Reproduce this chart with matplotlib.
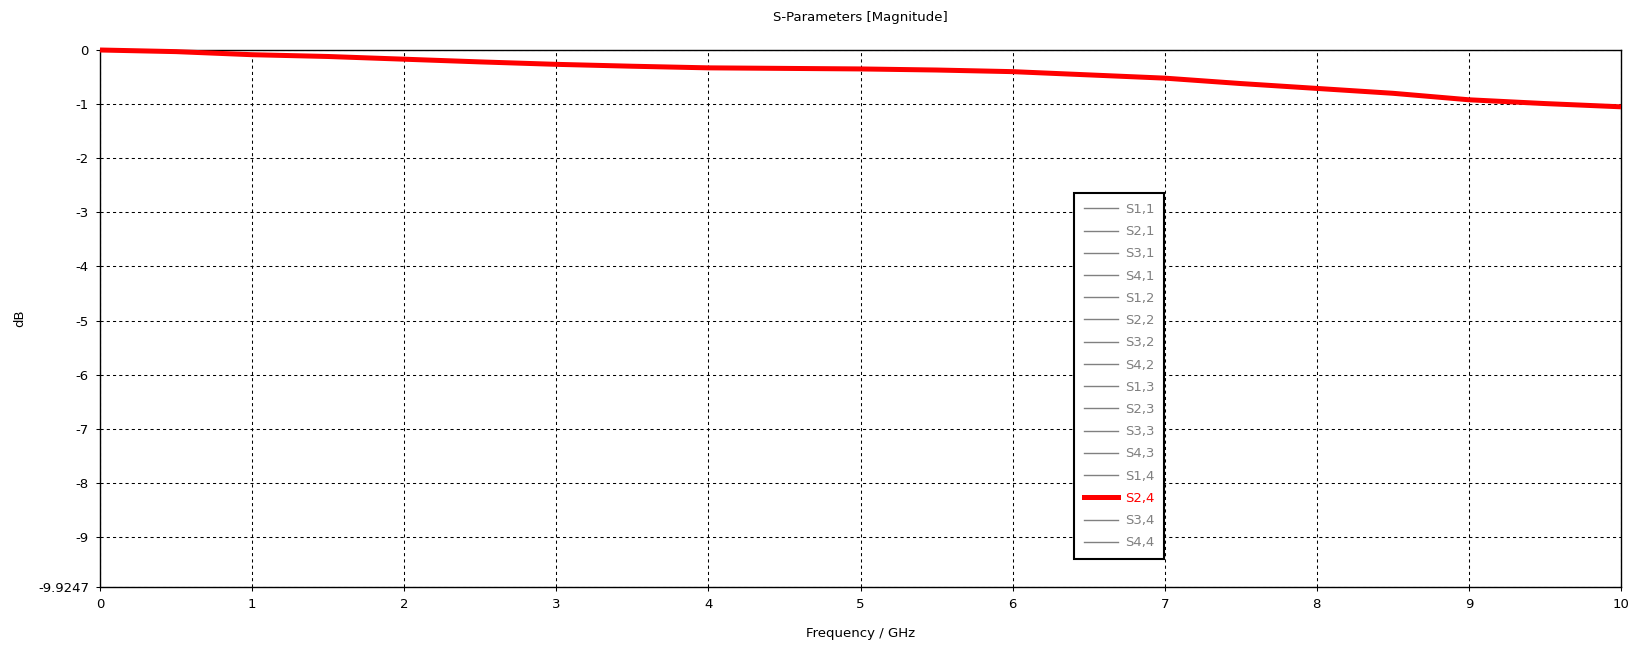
import matplotlib
matplotlib.use("Agg")
import matplotlib.pyplot as plt
from matplotlib.lines import Line2D

# ---- data ----
freq_ghz = [0.0, 0.5, 1.0, 1.5, 2.0, 2.5, 3.0, 3.5, 4.0, 4.5, 5.0,
            5.5, 6.0, 6.5, 7.0, 7.5, 8.0, 8.5, 9.0, 9.5, 10.0]
s24_db = [0.0, -0.03, -0.087, -0.12, -0.17, -0.22, -0.265, -0.30, -0.33, -0.34, -0.35,
          -0.37, -0.40, -0.46, -0.52, -0.62, -0.71, -0.80, -0.92, -0.99, -1.05]
legend_labels = ["S1,1", "S2,1", "S3,1", "S4,1", "S1,2", "S2,2", "S3,2", "S4,2",
                 "S1,3", "S2,3", "S3,3", "S4,3", "S1,4", "S2,4", "S3,4", "S4,4"]
highlight = "S2,4"
x_ticks = [0, 1, 2, 3, 4, 5, 6, 7, 8, 9, 10]
y_ticks = [0, -1, -2, -3, -4, -5, -6, -7, -8, -9, -9.9247]
y_min = -9.9247

plt.rcParams['font.family'] = ['DejaVu Sans']
W, H = 1648, 645
fig = plt.figure(figsize=(W / 100, H / 100), dpi=100)
ax = fig.add_axes([100 / W, 1 - 587 / H, (1621 - 100) / W, (587 - 50) / H])

ax.plot(freq_ghz, s24_db, color='#ff0000', lw=3.6, clip_on=False, zorder=5,
        solid_capstyle='butt')

ax.set_xlim(0, 10)
ax.set_ylim(y_min, 0)
ax.set_xticks(x_ticks)
ax.set_xticklabels([str(t) for t in x_ticks])
ax.set_yticks(y_ticks)
ax.set_yticklabels(["0"] + [str(t) for t in y_ticks[1:-1]] + ["-9.9247"])
ax.tick_params(direction='out', length=3, width=0.75, color='black',
               labelsize=9.5, pad=5)
for sp in ax.spines.values():
    sp.set_linewidth(1.0)
    sp.set_color('black')
ax.grid(True, color='black', linestyle=(0, (3, 3)), linewidth=0.75)

fig.text(860.5 / W, 1 - 17 / H, "S-Parameters [Magnitude]", ha='center', va='center', fontsize=9.5)
fig.text(860.5 / W, 1 - 633 / H, "Frequency / GHz", ha='center', va='center', fontsize=9.5)
fig.text(20 / W, 1 - 318 / H, "dB", ha='center', va='center', rotation=90, fontsize=9.5)

handles = []
for lab in legend_labels:
    if lab == highlight:
        handles.append(Line2D([], [], color='#ff0000', lw=3.6))
    else:
        handles.append(Line2D([], [], color='#808080', lw=1.0))
leg = fig.legend(handles, legend_labels, loc='upper left',
                 bbox_to_anchor=(1074 / W, 1 - 193 / H), borderaxespad=0,
                 fontsize=9.5, handlelength=2.55, handletextpad=0.55,
                 labelspacing=0.7, borderpad=0.75, fancybox=False, framealpha=1,
                 edgecolor='black')
leg.get_frame().set_linewidth(1.5)
for txt in leg.get_texts():
    txt.set_color('#ff0000' if txt.get_text() == highlight else '#808080')

fig.savefig("out.png", dpi=100)
